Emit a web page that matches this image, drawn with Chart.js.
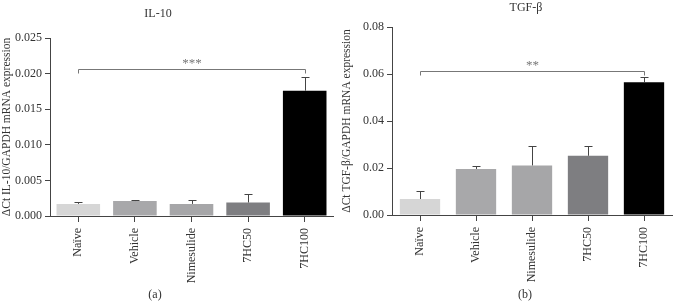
<!DOCTYPE html>
<html lang="en">
<head>
    <meta charset="UTF-8">
    <title>IL-10 / TGF-β</title>
    <script src="https://cdn.jsdelivr.net/npm/chart.js"></script>
    <style>
        body { margin: 0; background: #fff; font-family: "Liberation Serif", serif; color: #333; }
        #wrap { position: relative; width: 681px; height: 301px; }
        canvas { position: absolute; top: 0; }
        .lbl { position: absolute; font-size: 12px; transform: translate(-50%, -50%); white-space: nowrap; }
    </style>
</head>
<body>
<div id="wrap">
    <canvas id="chartA" width="340" height="301" style="left:0"></canvas>
    <canvas id="chartB" width="341" height="301" style="left:340px"></canvas>
    <div class="lbl" style="left:158px; top:13px">IL-10</div>
    <div class="lbl" style="left:526px; top:7px">TGF-β</div>
    <div class="lbl" style="left:155px; top:294px">(a)</div>
    <div class="lbl" style="left:525px; top:294px">(b)</div>
</div>
<script>
// datos
const grupos = ['Naïve', 'Vehicle', 'Nimesulide', '7HC50', '7HC100'];
const colores = ['#d6d6d6', '#a8a8aa', '#a6a6a8', '#7e7e81', '#000000'];

const il10 = [0.0017, 0.0021, 0.0017, 0.0019, 0.0176];
const il10Err = [0.0019, 0.0022, 0.0023, 0.0031, 0.0195];
const il10Ticks = [0, 0.005, 0.010, 0.015, 0.020, 0.025];
const il10Bracket = 0.0206;

const tgf = [0.0068, 0.0196, 0.0211, 0.0252, 0.0565];
const tgfErr = [0.0104, 0.0207, 0.0295, 0.0295, 0.0588];
const tgfTicks = [0, 0.02, 0.04, 0.06, 0.08];
const tgfBracket = 0.0614;

const fuente = { family: 'Liberation Serif', size: 12 };

// barras de error y corchete de significancia
function extras(errores, corchete, estrellas) {
    return {
        id: 'extras',
        afterDatasetsDraw(chart) {
            const ctx = chart.ctx;
            const x = chart.scales.x, y = chart.scales.y;
            const datos = chart.data.datasets[0].data;
            ctx.save();
            ctx.strokeStyle = '#444';
            ctx.lineWidth = 1;
            datos.forEach((v, i) => {
                const cx = Math.round(x.getPixelForValue(i)) + 0.5;
                const y0 = y.getPixelForValue(v);
                const y1 = Math.round(y.getPixelForValue(errores[i])) + 0.5;
                ctx.beginPath();
                ctx.moveTo(cx, y0);
                ctx.lineTo(cx, y1);
                ctx.moveTo(cx - 4, y1);
                ctx.lineTo(cx + 4, y1);
                ctx.stroke();
            });
            // corchete
            const xa = Math.round(x.getPixelForValue(0)) + 0.5;
            const xb = Math.round(x.getPixelForValue(datos.length - 1)) + 0.5;
            const yb = Math.round(y.getPixelForValue(corchete)) + 0.5;
            ctx.strokeStyle = '#777';
            ctx.beginPath();
            ctx.moveTo(xa, yb + 4);
            ctx.lineTo(xa, yb);
            ctx.lineTo(xb, yb);
            ctx.lineTo(xb, yb + 4);
            ctx.stroke();
            ctx.fillStyle = '#777';
            ctx.font = '13px "Liberation Serif"';
            ctx.textAlign = 'center';
            ctx.textBaseline = 'middle';
            ctx.fillText(estrellas, (xa + xb) / 2, yb - 6);
            ctx.restore();
        }
    };
}

function crearGrafica(id, valores, errores, ticks, decimales, titulo, corchete, estrellas, caja) {
    const ctx = document.getElementById(id).getContext('2d');
    return new Chart(ctx, {
        type: 'bar',
        data: {
            labels: grupos,
            datasets: [{
                data: valores,
                backgroundColor: colores,
                borderWidth: 0,
                barPercentage: caja.barra,
                categoryPercentage: 1
            }]
        },
        options: {
            responsive: false,
            animation: false,
            layout: { padding: { top: caja.top, right: caja.right, left: 0, bottom: 0 } },
            plugins: { legend: { display: false }, tooltip: { enabled: false } },
            scales: {
                x: {
                    afterFit: s => { s.height = caja.alto; },
                    grid: { offset: false, drawOnChartArea: false, drawTicks: true, tickLength: 6, color: '#444' },
                    border: { color: '#444' },
                    ticks: { minRotation: 90, maxRotation: 90, autoSkip: false, padding: 6, color: '#333', font: fuente }
                },
                y: {
                    min: ticks[0],
                    max: ticks[ticks.length - 1],
                    afterFit: s => { s.width = caja.ancho; },
                    afterBuildTicks: s => { s.ticks = ticks.map(v => ({ value: v })); },
                    grid: { drawOnChartArea: false, drawTicks: true, tickLength: 5, color: '#444' },
                    border: { color: '#444' },
                    ticks: { color: '#333', font: fuente, padding: 3, callback: v => v.toFixed(decimales) },
                    title: {
                        display: true,
                        text: titulo,
                        color: '#333',
                        font: { family: 'Liberation Serif', size: 11.5 },
                        padding: { top: 0, bottom: 0 }
                    }
                }
            }
        },
        plugins: [extras(errores, corchete, estrellas)]
    });
}

crearGrafica('chartA', il10, il10Err, il10Ticks, 3, 'ΔCt IL-10/GAPDH mRNA expression', il10Bracket, '***',
    { top: 38, right: 7, alto: 85, ancho: 50, barra: 0.77 });
crearGrafica('chartB', tgf, tgfErr, tgfTicks, 2, 'ΔCt TGF-β/GAPDH mRNA expression', tgfBracket, '**',
    { top: 27, right: 9, alto: 86, ancho: 52, barra: 0.72 });
</script>
</body>
</html>
